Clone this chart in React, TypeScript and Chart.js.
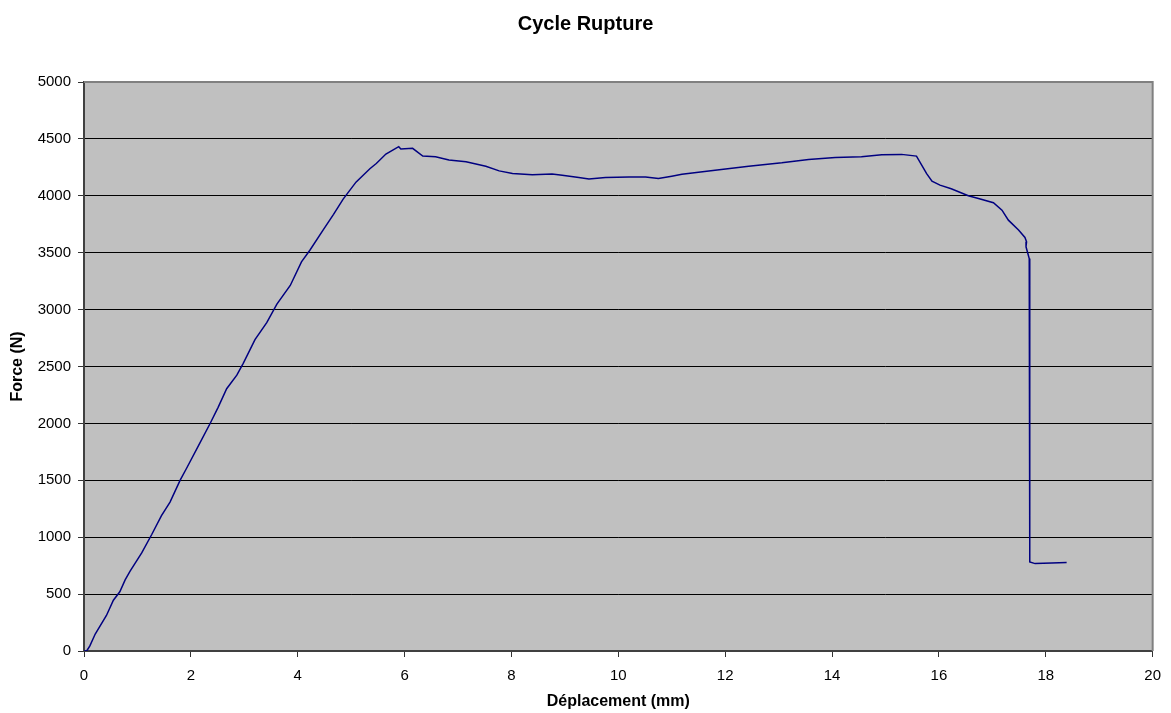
import React, { useEffect, useRef } from "react";
import { Chart, registerables } from "chart.js";

Chart.register(...registerables);

const TITLE = "Cycle Rupture";
const X_TITLE = "Déplacement (mm)";
const Y_TITLE = "Force (N)";

const displacement: number[] = [
  0, 0.05, 0.11, 0.21, 0.42, 0.55, 0.67, 0.77, 0.86, 1.08, 1.27, 1.45, 1.61, 1.8, 1.92,
  2.17, 2.36, 2.51, 2.67, 2.86, 2.98, 3.2, 3.42, 3.61, 3.86, 4.07, 4.23, 4.48, 4.67,
  4.85, 5.09, 5.35, 5.47, 5.65, 5.89, 5.93, 6.15, 6.34, 6.58, 6.83, 7.15, 7.52, 7.77,
  8.02, 8.39, 8.76, 8.95, 9.26, 9.45, 9.76, 10.2, 10.51, 10.75, 11.0, 11.19, 11.81,
  12.44, 13.06, 13.56, 14.06, 14.55, 14.93, 15.3, 15.58, 15.77, 15.87, 16.02, 16.23,
  16.55, 16.74, 17.02, 17.18, 17.3, 17.49, 17.61, 17.64, 17.63, 17.69, 17.7, 17.8,
  18.11, 18.39,
];

const force: number[] = [
  0, 0, 45, 149, 312, 446, 520, 625, 699, 862, 1026, 1190, 1309, 1502, 1606,
  1829, 1999, 2141, 2305, 2424, 2528, 2736, 2885, 3048, 3212, 3420, 3524, 3703, 3837,
  3971, 4120, 4238, 4284, 4367, 4432, 4411, 4417, 4349, 4343, 4314, 4299, 4260, 4219,
  4195, 4186, 4192, 4180, 4160, 4148, 4160, 4166, 4166, 4152, 4172, 4189, 4225,
  4260, 4290, 4320, 4337, 4343, 4361, 4364, 4349, 4195, 4128, 4094, 4062,
  4000, 3977, 3939, 3874, 3786, 3699, 3634, 3596, 3552, 3449, 782, 768,
  774, 777,
];

const X_MIN = 0;
const X_MAX = 20;
const X_STEP = 2;
const Y_MIN = 0;
const Y_MAX = 5000;
const Y_STEP = 500;

const FONT = "'Liberation Sans', Arial, Helvetica, sans-serif";

export default function App() {
  const ref = useRef<HTMLCanvasElement | null>(null);

  useEffect(() => {
    document.body.style.margin = "0";
    const canvas = ref.current;
    if (!canvas) return;

    const plotBg = {
      id: "plotBg",
      beforeDraw(chart: any) {
        const { ctx, chartArea } = chart;
        ctx.save();
        ctx.fillStyle = "#c0c0c0";
        ctx.fillRect(chartArea.left, chartArea.top, chartArea.right - chartArea.left, chartArea.bottom - chartArea.top);
        ctx.restore();
      },
      afterDraw(chart: any) {
        const { ctx, chartArea } = chart;
        ctx.save();
        ctx.strokeStyle = "#808080";
        ctx.lineWidth = 2;
        ctx.beginPath();
        ctx.moveTo(chartArea.left, chartArea.top);
        ctx.lineTo(chartArea.right, chartArea.top);
        ctx.lineTo(chartArea.right, chartArea.bottom);
        ctx.stroke();
        ctx.restore();
      },
    };

    const points = displacement.map((x, i) => ({ x, y: force[i] }));

    const chart = new Chart(canvas, {
      type: "scatter",
      data: {
        datasets: [
          {
            data: points,
            showLine: true,
            borderColor: "#000080",
            borderWidth: 1.5,
            pointRadius: 0,
            fill: false,
            tension: 0,
          },
        ],
      },
      options: {
        responsive: false,
        animation: false,
        layout: { padding: { left: 0, right: 0, top: 0, bottom: 0 } },
        plugins: {
          legend: { display: false },
          tooltip: { enabled: false },
          title: {
            display: true,
            text: TITLE,
            color: "#000",
            font: { family: FONT, size: 20, weight: "bold" },
            padding: { top: 12, bottom: 46 },
          },
        },
        scales: {
          x: {
            type: "linear",
            min: X_MIN,
            max: X_MAX,
            afterFit: (s: any) => {
              s.height = 62;
            },
            ticks: {
              stepSize: X_STEP,
              color: "#000",
              font: { family: FONT, size: 15 },
              padding: 10,
              maxRotation: 0,
            },
            grid: {
              drawOnChartArea: false,
              drawTicks: true,
              tickLength: 6,
              tickColor: "#333",
            },
            border: { display: true, color: "#404040", width: 2 },
            title: {
              display: true,
              text: X_TITLE,
              color: "#000",
              font: { family: FONT, size: 16, weight: "bold" },
              padding: { top: 4, bottom: 2 },
            },
          },
          y: {
            type: "linear",
            min: Y_MIN,
            max: Y_MAX,
            afterFit: (s: any) => {
              s.width = 84;
            },
            ticks: {
              stepSize: Y_STEP,
              color: "#000",
              font: { family: FONT, size: 15 },
              padding: 7,
              callback: (v: any) => String(v),
            },
            grid: {
              color: "#000",
              lineWidth: 1,
              drawTicks: true,
              tickLength: 6,
              tickColor: "#333",
            },
            border: { display: true, color: "#404040", width: 2 },
            title: {
              display: true,
              text: Y_TITLE,
              color: "#000",
              font: { family: FONT, size: 16, weight: "bold" },
              padding: { top: 8, bottom: 0 },
            },
          },
          yRight: {
            type: "linear",
            position: "right",
            display: true,
            min: Y_MIN,
            max: Y_MAX,
            afterFit: (s: any) => {
              s.width = 16;
            },
            ticks: { display: false },
            grid: { display: false, drawTicks: false },
            border: { display: false },
            title: { display: false },
          },
        },
      },
      plugins: [plotBg],
    } as any);

    return () => chart.destroy();
  }, []);

  return (
    <div style={{ position: "absolute", left: 0, top: 0, width: 1171, height: 713, background: "#fff" }}>
      <canvas ref={ref} width={1171} height={713} />
    </div>
  );
}
